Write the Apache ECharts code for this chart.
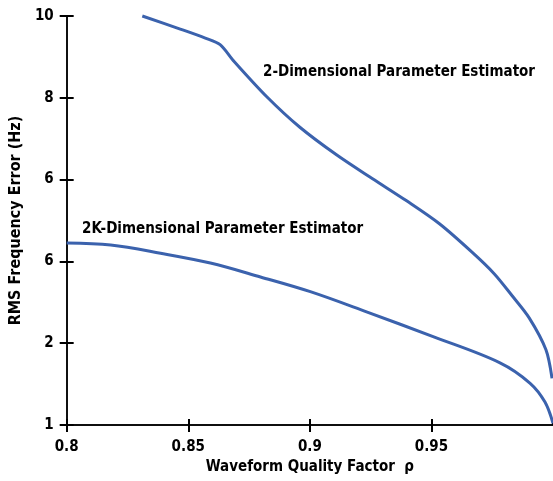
<!DOCTYPE html>
<html><head><meta charset="utf-8">
<script src="https://cdn.jsdelivr.net/npm/echarts@6/dist/echarts.min.js"></script>
<style>html,body{margin:0;padding:0;background:#fff}#c{width:553px;height:481px}</style>
</head><body><div id="c"></div>
<script>
// tick labels of the y axis (as printed, bottom to top)
var yTickLabels = ['1', '2', '6', '6', '8', '10'];
var xTickLabels = ['0.8', '0.85', '0.9', '0.95'];
// 2-Dimensional Parameter Estimator: [rho, position on y scale (tick index units)]
var upperX = [0.8311, 0.8467, 0.8570, 0.8631, 0.8684, 0.8824, 0.8959, 0.9111, 0.9258, 0.9398, 0.9533, 0.9668, 0.9758, 0.9832, 0.9902, 0.9971, 0.9996];
var upperY = [5.0, 4.84, 4.73, 4.65, 4.46, 4.01, 3.64, 3.30, 3.01, 2.74, 2.46, 2.11, 1.85, 1.58, 1.31, 0.92, 0.57];
// 2K-Dimensional Parameter Estimator
var lowerX = [0.8, 0.8181, 0.8386, 0.8591, 0.8797, 0.9002, 0.9236, 0.9507, 0.9782, 0.9906, 0.9967, 1.0];
var lowerY = [2.225, 2.20, 2.10, 1.98, 1.81, 1.63, 1.38, 1.08, 0.76, 0.51, 0.28, 0.02];

function zip(a, b) { return a.map(function (v, i) { return [v, b[i]]; }); }
var FONT = "'Liberation Sans Narrow', 'DejaVu Sans Condensed', sans-serif";
var LINE = '#3b62ad';

var chart = echarts.init(document.getElementById('c'));
var baseX = {
  type: 'value', min: 0.8, max: 1.0, interval: 0.05, position: 'bottom',
  axisLine: { show: true, onZero: false, lineStyle: { color: '#000', width: 1.5 } },
  splitLine: { show: false }
};
var baseY = {
  type: 'value', min: 0, max: 5, interval: 1, position: 'left',
  axisLine: { show: true, onZero: false, lineStyle: { color: '#000', width: 1.5 } },
  splitLine: { show: false }
};
chart.setOption({
  animation: false,
  grid: { left: 66, right: -1, top: 16, bottom: 56, containLabel: false },
  xAxis: [
    Object.assign({}, baseX, {
      name: 'Waveform Quality Factor  ρ', nameLocation: 'middle', nameGap: 30,
      nameTextStyle: { fontFamily: FONT, fontWeight: 'bold', fontSize: 15, color: '#000' },
      axisTick: { show: true, inside: false, length: 7, lineStyle: { color: '#000', width: 2 } },
      axisLabel: { show: true, margin: 15, showMaxLabel: false, fontFamily: FONT, fontWeight: 'bold', fontSize: 15, color: '#000',
        formatter: function (v) { var i = Math.round((v - 0.8) / 0.05); return xTickLabels[i] || ''; } }
    }),
    Object.assign({}, baseX, {
      axisTick: { show: true, inside: true, length: 6, lineStyle: { color: '#000', width: 2 } },
      axisLabel: { show: false }
    })
  ],
  yAxis: [
    Object.assign({}, baseY, {
      name: 'RMS Frequency Error (Hz)', nameLocation: 'middle', nameGap: 38, nameRotate: 90,
      nameTextStyle: { fontFamily: FONT, fontWeight: 'bold', fontSize: 16, color: '#000' },
      axisTick: { show: true, inside: false, length: 7, lineStyle: { color: '#000', width: 2 } },
      axisLabel: { show: true, margin: 13, fontFamily: FONT, fontWeight: 'bold', fontSize: 15, color: '#000',
        formatter: function (v) { return yTickLabels[Math.round(v)]; } }
    }),
    Object.assign({}, baseY, {
      axisTick: { show: true, inside: true, length: 7, lineStyle: { color: '#000', width: 2 } },
      axisLabel: { show: false }
    })
  ],
  series: [
    { type: 'line', name: '2-Dimensional Parameter Estimator', data: zip(upperX, upperY), smooth: 0.3, symbol: 'none',
      clip: false, lineStyle: { color: LINE, width: 3 } },
    { type: 'line', name: '2K-Dimensional Parameter Estimator', data: zip(lowerX, lowerY), smooth: 0.35, symbol: 'none',
      clip: false, lineStyle: { color: LINE, width: 3 } }
  ],
  graphic: [
    { type: 'text', left: 263, top: 65, style: { text: '2-Dimensional Parameter Estimator', font: 'bold 15px ' + FONT, fill: '#000' } },
    { type: 'text', left: 82, top: 222, style: { text: '2K-Dimensional Parameter Estimator', font: 'bold 15px ' + FONT, fill: '#000' } }
  ]
});
</script></body></html>
